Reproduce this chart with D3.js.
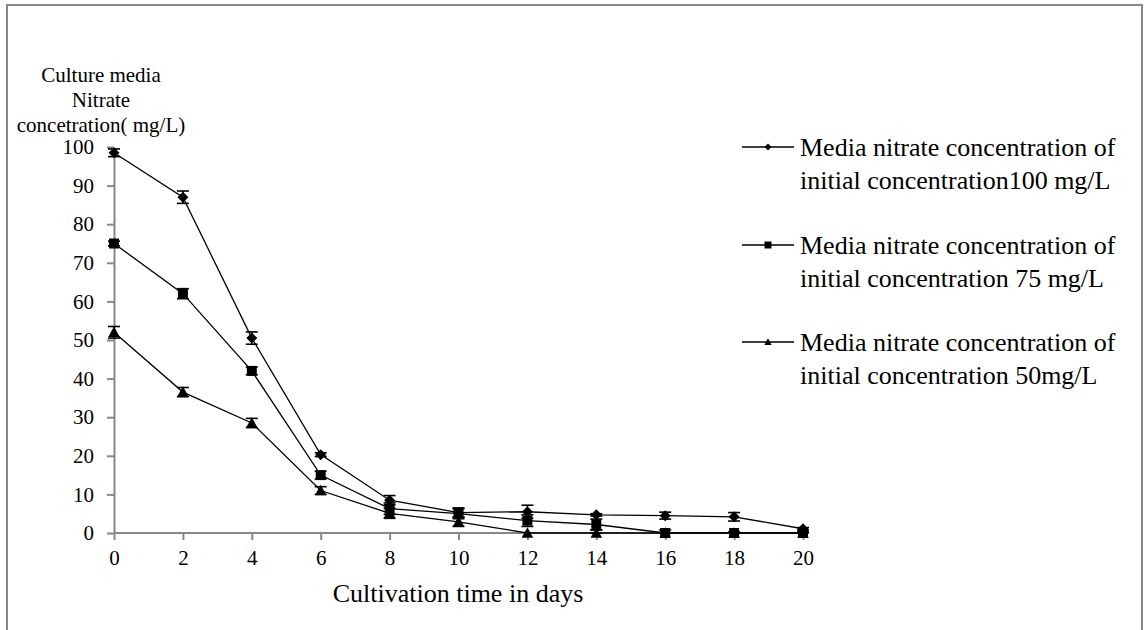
<!DOCTYPE html>
<html>
<head>
<meta charset="utf-8">
<script src="https://cdn.jsdelivr.net/npm/d3@7"></script>
<style>
  body { margin: 0; background: #fff; }
  svg { display: block; }
  text { font-family: "Liberation Serif", "Times New Roman", serif; fill: #000; }
</style>
</head>
<body>
<svg id="chart" width="1148" height="630"></svg>
<script>
// Cultivation days (x) and nitrate concentration in the medium (mg/L)
const days = [0, 2, 4, 6, 8, 10, 12, 14, 16, 18, 20];
const conc100 = [98.5, 87, 50.5, 20.3, 8.5, 5.3, 5.5, 4.7, 4.5, 4.2, 1.1];
const err100  = [1, 1.6, 1.6, 0.5, 1.2, 1.2, 1.7, 0.3, 0.9, 1.1, 0.3];
const conc75  = [75, 62, 42, 15, 6.3, 5, 3.2, 2.2, 0, 0, 0];
const err75   = [0.6, 1.3, 1, 1, 1.5, 1.3, 1.5, 1.4, 0.8, 0.3, 0.3];
const conc50  = [52, 36.5, 28.5, 11, 5.1, 2.9, 0, 0, 0, 0, 0];
const err50   = [1.5, 1.2, 1.2, 1, 1.3, 1.2, 0, 0.8, 0, 0, 0];

const seriesLabels = [
  ["Media nitrate concentration of", "initial concentration100 mg/L"],
  ["Media nitrate concentration of", "initial concentration 75 mg/L"],
  ["Media nitrate concentration of", "initial concentration 50mg/L"]
];
const markerKinds = ["diamond", "square", "triangle"];
const yTicks = d3.range(0, 101, 10);
const xTicks = days;
const yTitle = ["Culture media", "Nitrate", "concetration( mg/L)"];
const xTitle = "Cultivation time in days";

const series = [
  { values: conc100, errors: err100, kind: markerKinds[0], label: seriesLabels[0] },
  { values: conc75,  errors: err75,  kind: markerKinds[1], label: seriesLabels[1] },
  { values: conc50,  errors: err50,  kind: markerKinds[2], label: seriesLabels[2] }
];

const svg = d3.select("#chart");
const axisGrey = "#878787";

// outer frame
svg.append("rect")
  .attr("x", 7).attr("y", 5)
  .attr("width", 1135).attr("height", 640)
  .attr("fill", "none").attr("stroke", axisGrey).attr("stroke-width", 2);

const x = d3.scaleLinear().domain([0, 20]).range([114, 803]);
const y = d3.scaleLinear().domain([0, 100]).range([533, 147]);

// marker shapes as d3 symbol types (size = half-extent in px)
const symbolTypes = {
  diamond: { draw(ctx, s) { ctx.moveTo(0, -s); ctx.lineTo(s, 0); ctx.lineTo(0, s); ctx.lineTo(-s, 0); ctx.closePath(); } },
  square:  { draw(ctx, s) { ctx.rect(-s, -s, 2 * s, 2 * s); } },
  triangle:{ draw(ctx, s) { ctx.moveTo(0, -s * 1.05); ctx.lineTo(s * 1.05, s * 0.85); ctx.lineTo(-s * 1.05, s * 0.85); ctx.closePath(); } }
};
const markerSize = { diamond: 5.5, square: 5, triangle: 5.5 };

// axes
const yAxis = d3.axisLeft(y).tickValues(yTicks).tickSize(7).tickSizeOuter(0).tickPadding(13);
const xAxis = d3.axisBottom(x).tickValues(xTicks).tickSize(7).tickSizeOuter(0).tickPadding(10);

const gy = svg.append("g").attr("transform", `translate(${x(0)},0)`).call(yAxis);
const gx = svg.append("g").attr("transform", `translate(0,${y(0)})`).call(xAxis);
[gy, gx].forEach(g => {
  g.select(".domain").attr("stroke", axisGrey).attr("stroke-width", 2);
  g.selectAll(".tick line").attr("stroke", axisGrey).attr("stroke-width", 2);
  g.selectAll(".tick text").attr("font-size", 21)
    .attr("font-family", '"Liberation Serif", "Times New Roman", serif').attr("fill", "#000");
});
gx.select(".domain").attr("d", `M${x(0)},0H${x(20) + 3}`);

// y-axis title (three centred lines)
svg.append("g").selectAll("text").data(yTitle).join("text")
  .attr("x", 101).attr("y", (d, i) => 82 + i * 25)
  .attr("text-anchor", "middle").attr("font-size", 21)
  .text(d => d);

// x-axis title
svg.append("text")
  .attr("x", 458).attr("y", 602)
  .attr("text-anchor", "middle").attr("font-size", 26)
  .text(xTitle);

const line = d3.line().x((d, i) => x(days[i])).y(d => y(d));

// lines
series.forEach(s => {
  svg.append("path").datum(s.values)
    .attr("d", line).attr("fill", "none")
    .attr("stroke", "#000").attr("stroke-width", 1.3);
});

// error bars
series.forEach(s => {
  const g = svg.append("g").attr("stroke", "#000").attr("stroke-width", 1.6);
  const pts = s.values.map((v, i) => ({ x: days[i], v, e: s.errors[i] })).filter(p => p.e > 0);
  g.selectAll("line.v").data(pts).join("line").attr("class", "v")
    .attr("x1", p => x(p.x)).attr("x2", p => x(p.x))
    .attr("y1", p => y(p.v + p.e)).attr("y2", p => y(Math.max(0, p.v - p.e)));
  g.selectAll("line.top").data(pts).join("line").attr("class", "top")
    .attr("x1", p => x(p.x) - 6).attr("x2", p => x(p.x) + 6)
    .attr("y1", p => y(p.v + p.e)).attr("y2", p => y(p.v + p.e));
  g.selectAll("line.bot").data(pts).join("line").attr("class", "bot")
    .attr("x1", p => x(p.x) - 6).attr("x2", p => x(p.x) + 6)
    .attr("y1", p => y(Math.max(0, p.v - p.e))).attr("y2", p => y(Math.max(0, p.v - p.e)));
});

// markers
series.forEach(s => {
  const sym = d3.symbol().type(symbolTypes[s.kind]).size(markerSize[s.kind]);
  svg.append("g").selectAll("path").data(s.values).join("path")
    .attr("transform", (d, i) => `translate(${x(days[i])},${y(d)})`)
    .attr("d", sym).attr("fill", "#000");
});

// legend
const legendRowY = [147, 245, 342];
const legend = svg.append("g");
series.forEach((s, k) => {
  const ly = legendRowY[k];
  legend.append("line").attr("x1", 742).attr("x2", 794).attr("y1", ly).attr("y2", ly)
    .attr("stroke", "#000").attr("stroke-width", 1.3);
  legend.append("path")
    .attr("transform", `translate(768,${ly})`)
    .attr("d", d3.symbol().type(symbolTypes[s.kind]).size(3.5)())
    .attr("fill", "#000");
  legend.append("g").selectAll("text").data(s.label).join("text")
    .attr("x", 800).attr("y", (d, i) => ly + 9 + i * 33)
    .attr("font-size", 26)
    .text(d => d);
});
</script>
</body>
</html>
